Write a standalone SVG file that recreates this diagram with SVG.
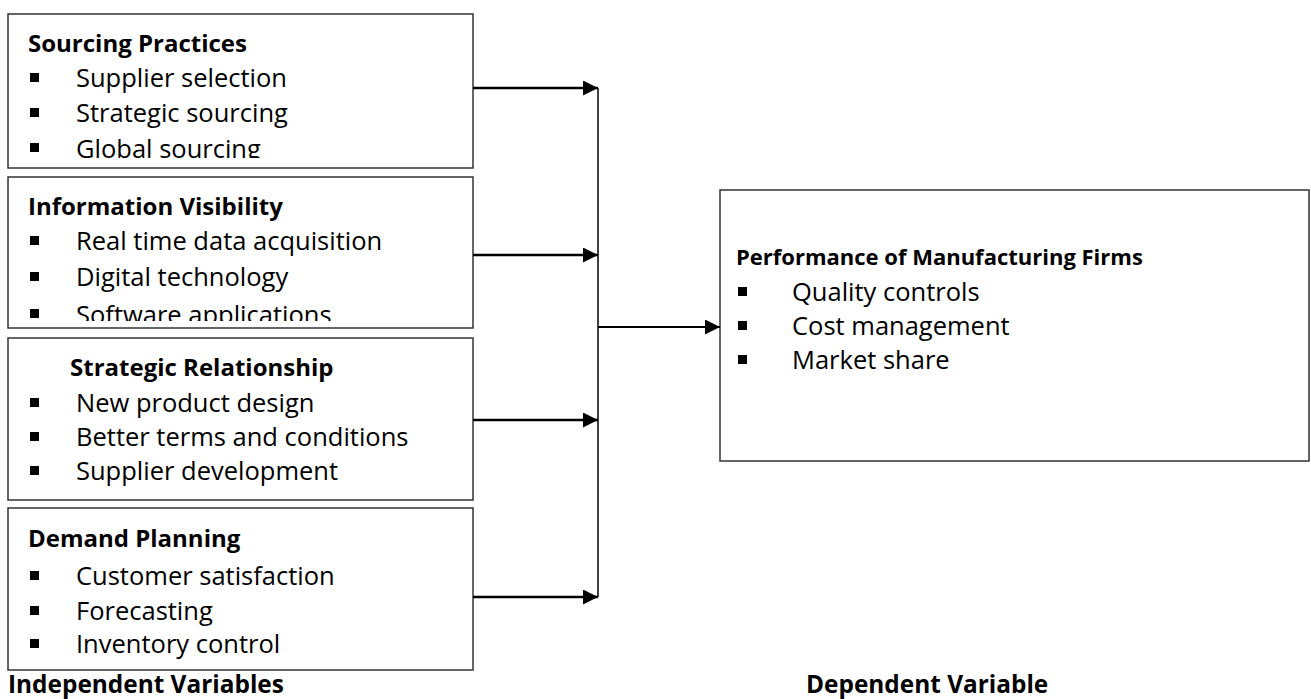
<svg xmlns="http://www.w3.org/2000/svg" width="1311" height="699" viewBox="0 0 1311 699">
<style>
.box{fill:#fff;stroke:#333;stroke-width:1.5}
.t{font-family:"Open Sans","Liberation Sans",sans-serif;font-size:25.5px;fill:#000}
.h{font-family:"Open Sans","Liberation Sans",sans-serif;font-size:24px;font-weight:bold;fill:#000}
.h2{font-family:"Open Sans","Liberation Sans",sans-serif;font-size:22px;font-weight:bold;fill:#000}
.lab{font-family:"Open Sans","Liberation Sans",sans-serif;font-size:24.4px;font-weight:bold;fill:#000}
.conn{stroke:#000;fill:none}
</style>
<defs>
<marker id="ah" viewBox="0 0 10 10" refX="10" refY="5" markerWidth="17" markerHeight="15" markerUnits="userSpaceOnUse" orient="auto">
<path d="M0,0 L10,5 L0,10 z" fill="#000"/>
</marker>
<clipPath id="c1"><rect x="8" y="14" width="466" height="144"/></clipPath>
<clipPath id="c2"><rect x="8" y="177" width="466" height="144"/></clipPath>
</defs>
<rect width="1311" height="699" fill="#fff"/>
<g id="node-sourcing">
<rect class="box" x="8" y="14" width="465" height="154"/>
<g clip-path="url(#c1)">
<text class="h" x="28" y="52">Sourcing Practices</text>
<rect x="30" y="73" width="9" height="9"/><text class="t" x="76" y="87">Supplier selection</text>
<rect x="30" y="108" width="9" height="9"/><text class="t" x="76" y="122">Strategic sourcing</text>
<rect x="30" y="143" width="9" height="9"/><text class="t" x="76" y="158">Global sourcing</text>
</g>
</g>
<g id="node-information">
<rect class="box" x="8" y="177" width="465" height="151"/>
<g clip-path="url(#c2)">
<text class="h" x="28" y="215">Information Visibility</text>
<rect x="30" y="236" width="9" height="9"/><text class="t" x="76" y="250">Real time data acquisition</text>
<rect x="30" y="272" width="9" height="9"/><text class="t" x="76" y="286">Digital technology</text>
<rect x="30" y="309" width="9" height="9"/><text class="t" x="76" y="324">Software applications</text>
</g>
</g>
<g id="node-strategic">
<rect class="box" x="8" y="338" width="465" height="162"/>
<text class="h" x="70" y="376">Strategic Relationship</text>
<rect x="30" y="398" width="9" height="9"/><text class="t" x="76" y="412">New product design</text>
<rect x="30" y="432" width="9" height="9"/><text class="t" x="76" y="446">Better terms and conditions</text>
<rect x="30" y="466" width="9" height="9"/><text class="t" x="76" y="480">Supplier development</text>
</g>
<g id="node-demand">
<rect class="box" x="8" y="508" width="465" height="162"/>
<text class="h" x="28" y="547">Demand Planning</text>
<rect x="30" y="571" width="9" height="9"/><text class="t" x="76" y="585">Customer satisfaction</text>
<rect x="30" y="606" width="9" height="9"/><text class="t" x="76" y="620">Forecasting</text>
<rect x="30" y="639" width="9" height="9"/><text class="t" x="76" y="653">Inventory control</text>
</g>
<g id="node-performance">
<rect class="box" x="720" y="190" width="589" height="271"/>
<text class="h2" x="736" y="265">Performance of Manufacturing Firms</text>
<rect x="738" y="287" width="9" height="9"/><text class="t" x="792" y="301">Quality controls</text>
<rect x="738" y="321" width="9" height="9"/><text class="t" x="792" y="335">Cost management</text>
<rect x="738" y="355" width="9" height="9"/><text class="t" x="792" y="369">Market share</text>
</g>
<g id="labels">
<text class="lab" x="8" y="693">Independent Variables</text>
<text class="lab" x="806" y="693">Dependent Variable</text>
</g>
<g id="connectors">
<line class="conn" x1="598" y1="88" x2="598" y2="597" stroke-width="1.5"/>
<line class="conn" x1="473" y1="88" x2="598" y2="88" stroke-width="2.5" marker-end="url(#ah)"/>
<line class="conn" x1="473" y1="255" x2="598" y2="255" stroke-width="2.5" marker-end="url(#ah)"/>
<line class="conn" x1="473" y1="420" x2="598" y2="420" stroke-width="2.5" marker-end="url(#ah)"/>
<line class="conn" x1="473" y1="597" x2="598" y2="597" stroke-width="2.5" marker-end="url(#ah)"/>
<line class="conn" x1="598" y1="327" x2="720" y2="327" stroke-width="2" marker-end="url(#ah)"/>
</g>
</svg>
